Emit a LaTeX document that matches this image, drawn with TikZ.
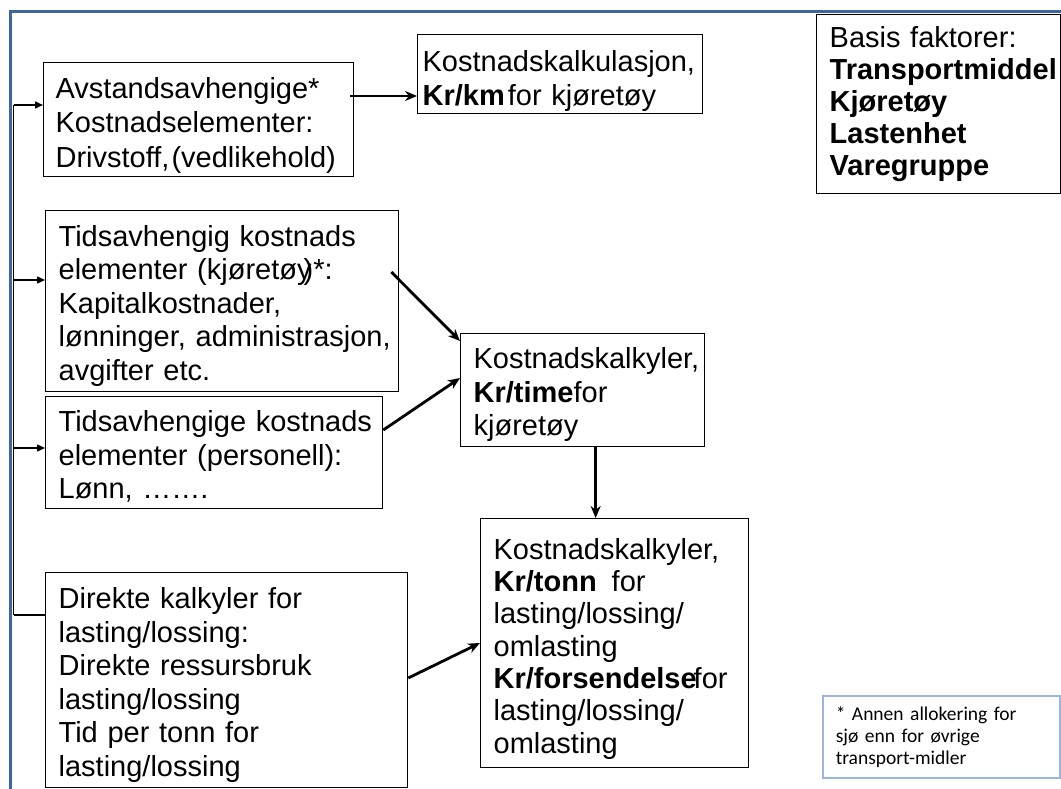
\documentclass[tikz,border=0pt]{standalone}
\usepackage{fontspec}
\setmainfont{Liberation Sans}
\newfontfamily\notefont{Carlito}
\usetikzlibrary{arrows.meta,calc}
\definecolor{frameblue}{HTML}{3D669E}
\definecolor{noteblue}{HTML}{9AB6DC}
\newcommand\lift[1]{\rule{0pt}{#1pt}}
\tikzset{
  box/.style={draw=black, line width=1.3pt, anchor=north west, align=left,
    inner ysep=0pt, font=\fontsize{29}{33.5}\selectfont},
  notebox/.style={draw=noteblue, line width=1.5pt, anchor=north west, align=left,
    inner ysep=0pt, font=\notefont\fontsize{19.5}{22}\selectfont},
  feed/.style={line width=1.5pt, -{Triangle[length=8pt,width=7pt]}},
  feedplain/.style={line width=1.5pt},
  flow/.style={line width=2.8pt, -{Stealth[length=12pt,width=10pt]}},
}
\begin{document}
\begin{tikzpicture}[x=1pt,y=-1pt]
\useasboundingbox (0,0) rectangle (1061,789);
% blue frame
\draw[frameblue, line width=3pt] (10.5,789) -- (10.5,11.5) -- (1061,11.5);

% boxes
\node[box, minimum width=310pt, minimum height=114pt, text width=286pt, inner xsep=12pt,
  font=\fontsize{29}{34.5}\selectfont] (b1) at (43,62)
  {\mbox{\lift{32}Avstandsavhengige*}\\\mbox{Kostnadselementer:}\\\mbox{Drivstoff,\kern2pt(vedlikehold)}};
\node[box, minimum width=285pt, minimum height=79pt, text width=275pt, inner xsep=5pt] (km) at (417,34)
  {\mbox{\lift{35}Kostnadskalkulasjon,}\\\mbox{\textbf{Kr/km}\kern3pt for kjøretøy}};
\node[box, minimum width=244pt, minimum height=179pt, text width=218pt, inner xsep=13pt,
  font=\fontsize{29}{32}\selectfont] (basis) at (816,14)
  {\mbox{Basis faktorer:}\\\mbox{\textbf{Transportmiddel}}\\\mbox{\textbf{Kjøretøy}}\\\mbox{\textbf{Lastenhet}}\\\mbox{\textbf{Varegruppe}}};
\node[box, minimum width=353pt, minimum height=181pt, text width=327pt, inner xsep=13pt] (b2) at (45,210)
  {\mbox{\lift{30}Tidsavhengig kostnads}\\\mbox{elementer (kjøretøy\kern-8pt)*:}\\\mbox{Kapitalkostnader,}\\\mbox{lønninger, administrasjon,}\\\mbox{avgifter etc.}};
\node[box, minimum width=337pt, minimum height=112pt, text width=311pt, inner xsep=13pt] (b3) at (45,396)
  {\mbox{\lift{29}Tidsavhengige kostnads}\\\mbox{elementer (personell):}\\\mbox{Lønn, …….}};
\node[box, minimum width=244pt, minimum height=113pt, text width=218pt, inner xsep=13pt] (time) at (460,333)
  {\mbox{\lift{30}Kostnadskalkyler,}\\\mbox{\textbf{Kr/time}for}\\\mbox{kjøretøy}};
\node[box, minimum width=362pt, minimum height=215pt, text width=336pt, inner xsep=13pt] (dir) at (45,572)
  {\mbox{\lift{31}Direkte kalkyler for}\\\mbox{lasting/lossing:}\\\mbox{Direkte ressursbruk}\\\mbox{lasting/lossing}\\\mbox{Tid per tonn for}\\\mbox{lasting/lossing}};
\node[box, minimum width=268pt, minimum height=249pt, text width=242pt, inner xsep=13pt,
  font=\fontsize{29}{32.3}\selectfont] (tonn) at (480,518)
  {\mbox{\lift{32}Kostnadskalkyler,}\\\mbox{\textbf{Kr/tonn}\kern15pt for}\\\mbox{lasting/lossing/}\\\mbox{omlasting}\\\mbox{\textbf{Kr/forsendelse}\kern-3pt for}\\\mbox{lasting/lossing/}\\\mbox{omlasting}};
\node[notebox, minimum width=237pt, minimum height=82pt, text width=211pt, inner xsep=13pt] (note) at (822,695)
  {\mbox{* Annen allokering for}\\\mbox{sjø enn for øvrige}\\\mbox{transport-midler}};

% left trunk and branches
\coordinate (j1) at (13.5,105);
\coordinate (j2) at (13.5,280);
\coordinate (j3) at (13.5,448);
\coordinate (j4) at (13.5,615);
\draw[feedplain] (j1) -- (j4);
\draw[feed] (j1) -- (j1 -| b1.west);
\draw[feed] (j2) -- (j2 -| b2.west);
\draw[feed] (j3) -- (j3 -| b3.west);
\draw[feedplain] (j4) -- (j4 -| dir.west);

% flow arrows
\coordinate (a1) at ($(b1.north east)+(-4,34)$);
\draw[flow] (a1) -- (a1 -| km.west);
\draw[flow] ($(b2.north east)+(-8,62)$) -- ($(time.north west)+(0,8)$);
\draw[flow] ($(b3.north east)+(0,34)$) -- ($(time.north west)+(0,45)$);
\coordinate (a4) at ($(time.south)+(13,0)$);
\draw[flow] (a4) -- (a4 |- tonn.north);
\draw[flow] ($(dir.north east)+(0,106)$) -- ($(tonn.north west)+(0,125)$);
\end{tikzpicture}
\end{document}
